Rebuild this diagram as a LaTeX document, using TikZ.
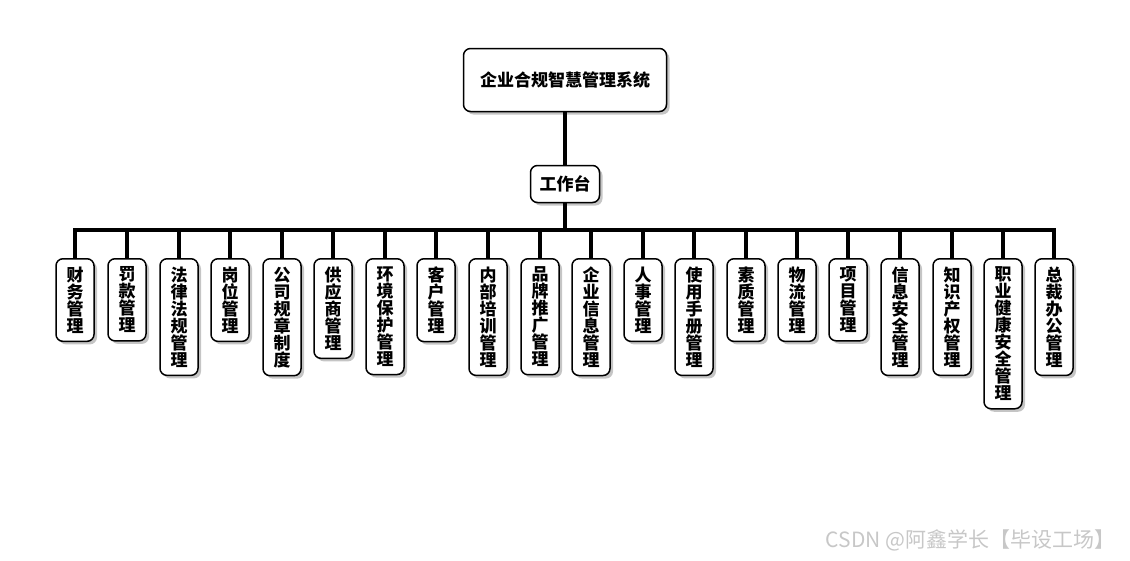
\documentclass[tikz,border=0pt]{standalone}
\usepackage{fontspec}
\setmainfont{Noto Sans CJK SC}
\usetikzlibrary{shadows}

\tikzset{
  box/.style={draw, line width=1.5pt, rounded corners=7pt, fill=white,
    font=\fontsize{17}{17}\selectfont\bfseries, align=center,
    drop shadow={shadow xshift=3pt, shadow yshift=-3pt, fill=black!45, opacity=0.5}},
  leaf/.style={box, anchor=north, minimum width=38pt, inner xsep=2pt, inner ysep=8pt},
  wire/.style={line width=3.5pt}
}

\begin{document}
\begin{tikzpicture}[x=1pt, y=-1pt]
\useasboundingbox (0,0) rectangle (1130,560);

% top
\node [box, minimum width=203pt, minimum height=63pt] (root) at (565,80) {企业合规智慧管理系统};
\node [box, minimum width=69pt, minimum height=37pt, inner sep=2pt] (desk) at (565,184) {工作台};
\draw [wire] (root) -- (desk);

% bus
\coordinate (bus) at (565,230);
\draw [wire] (desk) -- (bus);

% leaves
\node [leaf] (caiwu)  at (75,258)   {财\\务\\管\\理};
\node [leaf] (fakuan) at (127,258)  {罚\\款\\管\\理};
\node [leaf] (falv)   at (179,258)  {法\\律\\法\\规\\管\\理};
\node [leaf] (gangwei) at (230,258) {岗\\位\\管\\理};
\node [leaf] (guizhang) at (282,258) {公\\司\\规\\章\\制\\度};
\node [leaf] (gongying) at (333,258) {供\\应\\商\\管\\理};
\node [leaf] (huanjing) at (385,258) {环\\境\\保\\护\\管\\理};
\node [leaf] (kehu)   at (436,258)  {客\\户\\管\\理};
\node [leaf] (peixun) at (488,258)  {内\\部\\培\\训\\管\\理};
\node [leaf] (pinpai) at (540,258)  {品\\牌\\推\\广\\管\\理};
\node [leaf] (xinxi)  at (591,258)  {企\\业\\信\\息\\管\\理};
\node [leaf] (renshi) at (643,258)  {人\\事\\管\\理};
\node [leaf] (shouce) at (694,258)  {使\\用\\手\\册\\管\\理};
\node [leaf] (suzhi)  at (746,258)  {素\\质\\管\\理};
\node [leaf] (wuliu)  at (797,258)  {物\\流\\管\\理};
\node [leaf] (xiangmu) at (848,258) {项\\目\\管\\理};
\node [leaf] (anquan) at (900,258)  {信\\息\\安\\全\\管\\理};
\node [leaf] (chanquan) at (952,258) {知\\识\\产\\权\\管\\理};
\node [leaf] (jiankang) at (1003,258) {职\\业\\健\\康\\安\\全\\管\\理};
\node [leaf] (zongcai) at (1054,258) {总\\裁\\办\\公\\管\\理};

% connectors
\draw [wire] (bus) -| (caiwu.north);
\draw [wire] (bus) -| (fakuan.north);
\draw [wire] (bus) -| (falv.north);
\draw [wire] (bus) -| (gangwei.north);
\draw [wire] (bus) -| (guizhang.north);
\draw [wire] (bus) -| (gongying.north);
\draw [wire] (bus) -| (huanjing.north);
\draw [wire] (bus) -| (kehu.north);
\draw [wire] (bus) -| (peixun.north);
\draw [wire] (bus) -| (pinpai.north);
\draw [wire] (bus) -| (xinxi.north);
\draw [wire] (bus) -| (renshi.north);
\draw [wire] (bus) -| (shouce.north);
\draw [wire] (bus) -| (suzhi.north);
\draw [wire] (bus) -| (wuliu.north);
\draw [wire] (bus) -| (xiangmu.north);
\draw [wire] (bus) -| (anquan.north);
\draw [wire] (bus) -| (chanquan.north);
\draw [wire] (bus) -| (jiankang.north);
\draw [wire] (bus) -| (zongcai.north);

% watermark
\node [anchor=east, text=black!22, font=\fontsize{21}{21}\selectfont] (mark) at (1119,540) {CSDN @阿鑫学长【毕设工场】};

\end{tikzpicture}
\end{document}
